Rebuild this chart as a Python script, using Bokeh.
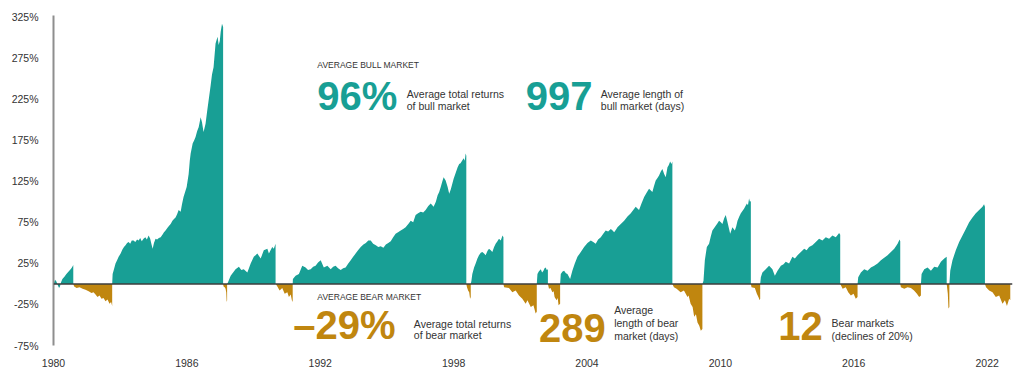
from bokeh.plotting import figure
from bokeh.models import Range1d, FixedTicker, PrintfTickFormatter, Span, Label
from bokeh.embed import file_html
from bokeh.resources import INLINE

# ---------------- data (years, cumulative % return) ----------------
y_ticks = [-75, -25, 25, 75, 125, 175, 225, 275, 325]
x_ticks = [1980, 1986, 1992, 1998, 2004, 2010, 2016, 2022]

bull_years = [
    [1980.0, 1980.07, 1980.13, 1980.2, 1980.25, 1980.29, 1980.34, 1980.4, 1980.5, 1980.58, 1980.68, 1980.77, 1980.83, 1980.89],
    [1982.64, 1982.66, 1982.72, 1982.79, 1982.86, 1982.93, 1983.02, 1983.1, 1983.17, 1983.24,
     1983.31, 1983.38, 1983.45, 1983.52, 1983.6, 1983.68, 1983.76, 1983.83, 1983.9, 1983.97,
     1984.05, 1984.13, 1984.2, 1984.28, 1984.35, 1984.41, 1984.46, 1984.52, 1984.59, 1984.66,
     1984.74, 1984.82, 1984.9, 1984.97, 1985.04, 1985.12, 1985.2, 1985.27, 1985.35, 1985.42,
     1985.49, 1985.56, 1985.63, 1985.72, 1985.78, 1985.85, 1985.92, 1985.99, 1986.08, 1986.13,
     1986.17, 1986.26, 1986.33, 1986.39, 1986.46, 1986.53, 1986.62, 1986.68, 1986.75, 1986.84,
     1986.91, 1986.98, 1987.07, 1987.13, 1987.2, 1987.29, 1987.38, 1987.43, 1987.48, 1987.52,
     1987.58, 1987.63],
    [1987.81, 1987.85, 1987.97, 1988.08, 1988.19, 1988.34, 1988.45, 1988.56, 1988.72, 1988.87,
     1989.01, 1989.17, 1989.32, 1989.46, 1989.62, 1989.69, 1989.84, 1989.91, 1989.99],
    [1990.76, 1990.77, 1990.89, 1991.04, 1991.19, 1991.34, 1991.45, 1991.57, 1991.68, 1991.79,
     1991.9, 1992.02, 1992.16, 1992.32, 1992.47, 1992.58, 1992.69, 1992.8, 1992.92, 1993.03,
     1993.14, 1993.26, 1993.37, 1993.48, 1993.59, 1993.7, 1993.82, 1993.94, 1994.05, 1994.16,
     1994.27, 1994.38, 1994.5, 1994.61, 1994.72, 1994.84, 1994.95, 1995.06, 1995.17, 1995.28,
     1995.39, 1995.5, 1995.62, 1995.73, 1995.84, 1995.96, 1996.07, 1996.18, 1996.29, 1996.4,
     1996.52, 1996.63, 1996.74, 1996.86, 1996.97, 1997.1, 1997.2, 1997.28, 1997.35, 1997.42,
     1997.48, 1997.55, 1997.64, 1997.73, 1997.8, 1997.87, 1997.94, 1998.0, 1998.09, 1998.18,
     1998.25, 1998.31, 1998.38, 1998.45, 1998.5, 1998.54, 1998.57],
    [1998.77, 1998.8, 1998.84, 1998.92, 1998.99, 1999.07, 1999.14, 1999.22, 1999.29, 1999.37,
     1999.44, 1999.52, 1999.59, 1999.67, 1999.74, 1999.82, 1999.89, 1999.97, 2000.04, 2000.12,
     2000.2, 2000.24],
    [2001.74, 2001.77, 2001.83, 2001.92, 2001.98, 2002.04, 2002.09, 2002.14, 2002.19, 2002.24],
    [2002.79, 2002.82, 2002.9, 2002.97, 2003.05, 2003.12, 2003.18, 2003.24, 2003.34, 2003.45,
     2003.57, 2003.72, 2003.87, 2004.02, 2004.17, 2004.28, 2004.39, 2004.5, 2004.62, 2004.73,
     2004.84, 2004.95, 2005.07, 2005.15, 2005.22, 2005.3, 2005.37, 2005.52, 2005.67, 2005.82,
     2005.97, 2006.08, 2006.19, 2006.27, 2006.34, 2006.45, 2006.57, 2006.68, 2006.79, 2006.86,
     2006.94, 2007.01, 2007.09, 2007.17, 2007.24, 2007.32, 2007.39, 2007.47, 2007.54, 2007.62,
     2007.68, 2007.74, 2007.8, 2007.84],
    [2009.19, 2009.24, 2009.3, 2009.39, 2009.49, 2009.57, 2009.64, 2009.72, 2009.79, 2009.87,
     2009.94, 2010.02, 2010.09, 2010.17, 2010.24, 2010.32, 2010.38, 2010.44, 2010.54, 2010.65,
     2010.71, 2010.77, 2010.85, 2010.92, 2011.0, 2011.07, 2011.13, 2011.19, 2011.24, 2011.29,
     2011.33, 2011.37],
    [2011.79, 2011.82, 2011.89, 2012.04, 2012.19, 2012.34, 2012.45, 2012.57, 2012.72, 2012.84,
     2012.94, 2013.09, 2013.24, 2013.35, 2013.47, 2013.62, 2013.77, 2013.88, 2013.99, 2014.14,
     2014.29, 2014.44, 2014.59, 2014.74, 2014.89, 2015.04, 2015.19, 2015.28, 2015.34, 2015.39],
    [2016.17, 2016.2, 2016.32, 2016.47, 2016.62, 2016.77, 2016.92, 2017.07, 2017.22, 2017.37,
     2017.52, 2017.67, 2017.82, 2017.97, 2018.06, 2018.09],
    [2019.02, 2019.05, 2019.17, 2019.32, 2019.47, 2019.62, 2019.77, 2019.92, 2020.07, 2020.18],
    [2020.3, 2020.34, 2020.44, 2020.59, 2020.74, 2020.89, 2021.04, 2021.19, 2021.34, 2021.49,
     2021.64, 2021.79, 2021.86, 2021.9],
]
bull_returns = [
    [0, 5, 3, -2, -5, -3, 2, 6, 9, 12, 15, 18, 20, 23],
    [0, 12, 18, 25, 29, 33, 37, 42, 45, 47,
     50, 51, 49, 53, 53, 51, 54, 53, 56, 52,
     55, 57, 54, 59, 55, 48, 43, 50, 55, 54,
     56, 57, 60, 63, 65, 68, 71, 73, 77, 79,
     81, 85, 90, 88, 97, 106, 112, 118, 134, 150,
     159, 171, 175, 179, 186, 191, 203, 197, 185, 195,
     210, 224, 242, 255, 264, 293, 301, 291, 296, 307,
     317, 313],
    [0, 2, 10, 14, 18, 21, 17, 18, 14, 25,
     33, 37, 31, 41, 43, 37, 45, 43, 49],
    [0, 6, 10, 12, 22, 20, 17, 18, 21, 22,
     26, 29, 20, 22, 18, 21, 22, 19, 17, 19,
     20, 25, 29, 33, 37, 41, 45, 48, 50, 53,
     53, 49, 47, 45, 46, 44, 48, 50, 52, 57,
     61, 63, 65, 67, 69, 73, 77, 75, 84, 86,
     88, 87, 90, 95, 98, 94, 100, 108, 112, 118,
     124, 130, 126, 118, 110, 115, 122, 128, 135, 142,
     146, 147, 150, 153, 150, 159, 156],
    [0, 4, 12, 20, 25, 31, 35, 38, 39, 37,
     35, 40, 43, 41, 39, 45, 49, 52, 55, 53,
     59, 57],
    [0, 12, 15, 18, 14, 16, 19, 20, 17, 18],
    [0, 12, 15, 16, 13, 12, 9, 6, 16, 25,
     33, 39, 45, 50, 53, 51, 49, 54, 57, 61,
     65, 64, 67, 65, 63, 66, 69, 73, 77, 82,
     86, 90, 94, 92, 90, 98, 106, 111, 116, 114,
     112, 119, 126, 129, 132, 137, 140, 134, 130, 142,
     145, 149, 146, 149],
    [0, 4, 29, 45, 49, 58, 65, 68, 71, 74,
     77, 75, 73, 80, 84, 75, 68, 61, 69, 65,
     70, 77, 82, 86, 89, 92, 95, 98, 96, 104,
     100, 101],
    [0, 8, 14, 18, 22, 18, 10, 16, 22, 24,
     27, 25, 33, 31, 35, 39, 43, 41, 45, 47,
     51, 55, 53, 57, 55, 59, 57, 60, 62, 60],
    [0, 8, 14, 18, 16, 20, 22, 25, 29, 32,
     35, 39, 43, 49, 54, 52],
    [0, 12, 18, 20, 16, 21, 20, 27, 31, 33],
    [0, 16, 29, 41, 51, 59, 67, 75, 81, 86,
     90, 94, 97, 94],
]

bear_years = [
    [1980.89, 1980.93, 1981.04, 1981.17, 1981.31, 1981.44, 1981.58, 1981.71, 1981.8, 1981.89,
     1981.98, 1982.07, 1982.16, 1982.25, 1982.34, 1982.43, 1982.52, 1982.59, 1982.64],
    [1987.63, 1987.65, 1987.7, 1987.74, 1987.77, 1987.79, 1987.81],
    [1990.0, 1990.07, 1990.17, 1990.29, 1990.4, 1990.52, 1990.59, 1990.67, 1990.74, 1990.76],
    [1998.57, 1998.6, 1998.65, 1998.7, 1998.74, 1998.77],
    [2000.24, 2000.27, 2000.49, 2000.64, 2000.79, 2000.94, 2001.09, 2001.24, 2001.32, 2001.47,
     2001.59, 2001.69, 2001.74],
    [2002.24, 2002.29, 2002.36, 2002.44, 2002.5, 2002.54, 2002.63, 2002.68, 2002.72, 2002.79],
    [2007.84, 2007.91, 2008.03, 2008.21, 2008.36, 2008.52, 2008.57, 2008.66, 2008.75, 2008.82,
     2008.9, 2008.97, 2009.05, 2009.12, 2009.19],
    [2011.37, 2011.4, 2011.55, 2011.64, 2011.71, 2011.77, 2011.79],
    [2015.39, 2015.5, 2015.64, 2015.75, 2015.87, 2015.99, 2016.09, 2016.17],
    [2018.09, 2018.12, 2018.27, 2018.42, 2018.57, 2018.71, 2018.84, 2018.94, 2019.02],
    [2020.18, 2020.2, 2020.23, 2020.26, 2020.3],
    [2021.9, 2021.95, 2022.09, 2022.24, 2022.39, 2022.54, 2022.69, 2022.8, 2022.89, 2022.99,
     2023.04],
]
bear_returns = [
    [0, -3, -5, -4, -6, -7, -9, -11, -10, -13,
     -16, -14, -18, -17, -21, -19, -24, -22, -27],
    [0, -3, -4, -6, -10, -22, -20],
    [0, -3, -8, -5, -12, -10, -16, -13, -22, -20],
    [0, -4, -8, -10, -18, -16],
    [0, -4, -5, -10, -8, -14, -18, -24, -20, -28,
     -26, -36, -34],
    [0, -6, -5, -10, -9, -16, -20, -17, -26, -24],
    [0, -4, -6, -10, -8, -16, -14, -24, -28, -40,
     -37, -47, -51, -57, -55],
    [0, -4, -5, -12, -16, -20, -18],
    [0, -6, -4, -10, -14, -12, -18, -16],
    [0, -4, -6, -4, -5, -8, -12, -16, -14],
    [0, -5, -12, -30, -28],
    [0, -4, -8, -10, -16, -14, -24, -20, -27, -18,
     -20],
]

# ---------------- styling ----------------
TEAL = "#189f95"
GOLD = "#c0860f"
TEXT = "#333333"
FONT = "Liberation Sans"

p = figure(width=1020, height=370, output_backend="svg", toolbar_location=None,
           x_range=Range1d(1980, 2023.14), y_range=Range1d(-75, 327),
           min_border_left=53, min_border_right=8, min_border_top=15, min_border_bottom=25)
p.outline_line_color = None
p.xgrid.visible = False
p.ygrid.visible = False
p.background_fill_color = "white"
p.border_fill_color = "white"

for xs, ys in zip(bull_years, bull_returns):
    p.varea(x=xs, y1=0, y2=ys, fill_color=TEAL, fill_alpha=1.0)
for xs, ys in zip(bear_years, bear_returns):
    p.varea(x=xs, y1=0, y2=ys, fill_color=GOLD, fill_alpha=1.0)

p.add_layout(Span(location=0, dimension="width", line_color="#3c3c3c", line_width=1.5))

# axes
yax = p.yaxis[0]
yax.ticker = FixedTicker(ticks=y_ticks)
yax.formatter = PrintfTickFormatter(format="%d%%")
yax.major_tick_line_color = None
yax.minor_tick_line_color = None
yax.axis_line_color = "#8e8e8e"
yax.axis_line_width = 2
yax.major_label_standoff = 9
yax.major_label_text_font = FONT
yax.major_label_text_font_size = "10.5px"
yax.major_label_text_color = TEXT

xax = p.xaxis[0]
xax.ticker = FixedTicker(ticks=x_ticks)
xax.formatter = PrintfTickFormatter(format="%d")
xax.axis_line_color = None
xax.major_tick_line_color = None
xax.minor_tick_line_color = None
xax.major_label_standoff = 7
xax.major_label_text_font = FONT
xax.major_label_text_font_size = "10.5px"
xax.major_label_text_color = TEXT


def add_text(x, y, text, size, color=TEXT, bold=False):
    p.add_layout(Label(x=x, y=y, text=text, text_font=FONT, text_font_size=f"{size}px",
                       text_color=color, text_font_style="bold" if bold else "normal",
                       text_baseline="alphabetic", text_align="left",
                       y_offset=round(0.38 * size)))


# bull-market callout
add_text(1991.87, 263.2, "AVERAGE BULL MARKET", 8.5)
add_text(1991.87, 210.7, "96%", 40, TEAL, True)
add_text(1995.89, 226.8, "Average total returns", 10.5)
add_text(1995.89, 212.2, "of bull market", 10.5)
add_text(2001.24, 210.7, "997", 40, TEAL, True)
add_text(2004.62, 226.8, "Average length of", 10.5)
add_text(2004.62, 212.2, "bull market (days)", 10.5)

# bear-market callout
add_text(1991.87, -19.3, "AVERAGE BEAR MARKET", 8.5)
add_text(1990.79, -68.9, "\u201329%", 40, GOLD, True)
add_text(1996.21, -53.4, "Average total returns", 10.5)
add_text(1996.21, -67.5, "of bear market", 10.5)
add_text(2001.84, -72.5, "289", 40, GOLD, True)
add_text(2005.22, -37.2, "Average", 10.5)
add_text(2005.22, -52.4, "length of bear", 10.5)
add_text(2005.22, -67.8, "market (days)", 10.5)
add_text(2012.6, -69.8, "12", 40, GOLD, True)
add_text(2015.0, -52.7, "Bear markets", 10.5)
add_text(2015.0, -67.8, "(declines of 20%)", 10.5)

open("out.html", "w").write(file_html(p, INLINE))
